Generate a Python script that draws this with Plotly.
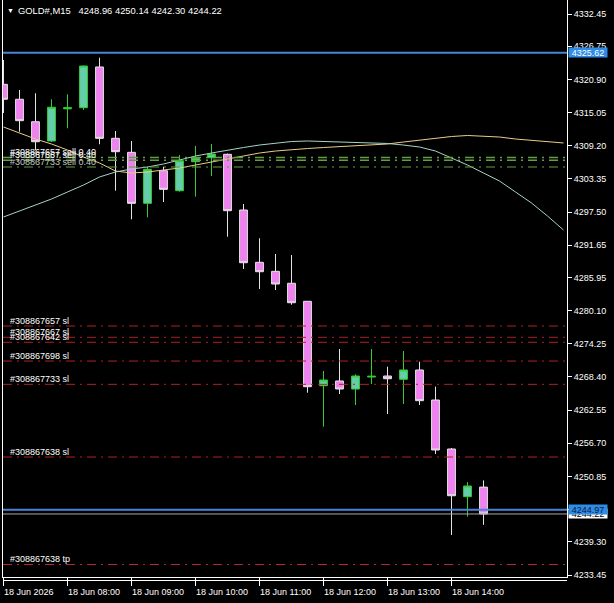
import plotly.graph_objects as go
import pandas as pd

# ---------------- data ----------------
bar_time = pd.date_range("2026-06-18 07:00", periods=31, freq="15min")
open_ = [4320.04, 4317.40, 4313.44, 4310.04, 4315.72, 4315.91, 4323.10, 4310.51, 4308.04, 4299.04,
         4304.80, 4301.27, 4306.39, 4307.09, 4307.69, 4297.86, 4288.63, 4287.04, 4284.93, 4281.75,
         4266.86, 4267.69, 4266.27, 4268.39, 4268.57, 4267.99, 4269.63, 4264.33, 4255.69, 4247.27, 4248.96]
high = [4324.33, 4319.04, 4318.46, 4317.40, 4318.28, 4323.35, 4324.74, 4311.80, 4310.04, 4305.50,
        4305.50, 4307.57, 4309.16, 4309.51, 4307.83, 4298.92, 4292.87, 4290.10, 4289.92, 4281.80,
        4269.45, 4273.33, 4268.87, 4273.33, 4270.21, 4272.98, 4271.09, 4266.68, 4255.86, 4249.86, 4250.14]
low = [4314.98, 4311.68, 4308.45, 4309.86, 4312.28, 4315.51, 4309.46, 4301.27, 4296.22, 4296.57,
       4299.27, 4301.09, 4300.21, 4303.86, 4293.15, 4287.45, 4283.92, 4283.74, 4281.15, 4265.62,
       4259.62, 4265.39, 4263.45, 4267.16, 4261.86, 4263.63, 4263.45, 4254.80, 4240.51, 4243.74, 4242.30]
close = [4317.40, 4313.62, 4309.91, 4315.99, 4315.90, 4323.27, 4310.51, 4308.15, 4299.04, 4305.04,
         4301.51, 4306.56, 4307.13, 4307.74, 4297.74, 4288.56, 4286.97, 4284.80, 4281.50, 4266.68,
         4267.86, 4266.27, 4268.57, 4268.52, 4268.09, 4269.63, 4264.21, 4255.51, 4247.44, 4249.16, 4244.22]

# shifted moving averages (extend 5 bars past the last candle)
ma_time = pd.date_range("2026-06-18 07:00", periods=36, freq="15min")
ma_yellow = [4312.51, 4311.45, 4310.39, 4309.51, 4308.45, 4307.21, 4306.16, 4304.74, 4304.39, 4304.57,
             4304.92, 4305.27, 4305.80, 4306.33, 4306.86, 4307.39, 4307.92, 4308.27, 4308.54, 4308.71,
             4308.89, 4309.07, 4309.24, 4309.33, 4309.51, 4309.86, 4310.21, 4310.57, 4310.83, 4311.01,
             4310.92, 4310.74, 4310.39, 4310.13, 4309.86, 4309.69]
ma_cyan = [4296.63, 4297.69, 4298.74, 4299.80, 4301.04, 4302.27, 4303.69, 4304.57, 4305.10, 4305.45,
           4305.98, 4306.69, 4307.39, 4307.92, 4308.45, 4308.89, 4309.33, 4309.69, 4309.95, 4310.04,
           4309.95, 4309.86, 4309.77, 4309.69, 4309.60, 4309.33, 4308.98, 4308.27, 4307.04, 4305.80,
           4304.39, 4302.98, 4301.04, 4299.10, 4296.80, 4294.33]

# order lines
entry_prices = [4307.13, 4306.63, 4305.45]
entry_labels = ["#308867657 sell 0.40", "#308867667 sell 0.40", "#308867733 sell 0.40"]
stop_prices = [4277.39, 4275.40, 4274.52, 4271.21, 4267.10, 4254.27]
stop_labels = ["#308867657 sl", "#308867667 sl", "#308867642 sl", "#308867698 sl", "#308867733 sl", "#308867638 sl"]
tp_prices = [4235.30]
tp_labels = ["#308867638 tp"]
blue_levels = [4325.62, 4244.97]
bid_price = 4244.22

# axes
price_ticks = [4332.45, 4326.75, 4320.90, 4315.05, 4309.20, 4303.35, 4297.50, 4291.65, 4285.95,
               4280.10, 4274.25, 4268.40, 4262.55, 4256.70, 4250.85, 4245.00, 4239.30, 4233.45]
time_ticks = pd.date_range("2026-06-18 07:00", periods=8, freq="60min")
time_labels = ["18 Jun 2026", "18 Jun 08:00", "18 Jun 09:00", "18 Jun 10:00",
               "18 Jun 11:00", "18 Jun 12:00", "18 Jun 13:00", "18 Jun 14:00"]
header_text = "GOLD#,M15\u00a0\u00a0 4248.96 4250.14 4242.30 4244.22"

FONT = "Liberation Sans"

fig = go.Figure()
fig.add_trace(go.Candlestick(
    x=bar_time, open=open_, high=high, low=low, close=close,
    increasing=dict(fillcolor="#66CDAA", line=dict(color="#32CD32", width=1)),
    decreasing=dict(fillcolor="#EE82EE", line=dict(color="#E4E4E4", width=1)),
    whiskerwidth=0, showlegend=False, hoverinfo="skip"))
fig.add_trace(go.Scatter(x=ma_time, y=ma_yellow, mode="lines",
                         line=dict(color="#E8CC88", width=1), showlegend=False, hoverinfo="skip"))
fig.add_trace(go.Scatter(x=ma_time, y=ma_cyan, mode="lines",
                         line=dict(color="#A6D4C2", width=1), showlegend=False, hoverinfo="skip"))

shapes = []
annotations = []

def hline(price, color, width, dash):
    shapes.append(dict(type="line", xref="paper", x0=0, x1=1, yref="y", y0=price, y1=price,
                       line=dict(color=color, width=width, dash=dash)))

def order_label(price, text, color="#FFFFFF"):
    annotations.append(dict(xref="paper", x=0, xshift=5, xanchor="left", yref="y", y=price,
                            yanchor="bottom", yshift=-1.5, text=text, showarrow=False,
                            font=dict(family=FONT, size=9, color=color)))

DASHDOT = "9px,5px,2px,5px"
for p, t, c, w in zip(entry_prices, entry_labels, ["#FFFFFF", "#FFFFFF", "#C8C8C8"], [1.5, 1.5, 1]):
    hline(p, "#5FA043", w, DASHDOT)
    order_label(p, t, c)
for p, t in zip(stop_prices, stop_labels):
    hline(p, "#B02222", 1, DASHDOT)
    order_label(p, t)
for p, t in zip(tp_prices, tp_labels):
    hline(p, "#B42840", 1, DASHDOT)
    order_label(p, t)

hline(bid_price, "#A8A8A8", 1, "solid")
for p in blue_levels:
    hline(p, "#4A84D6", 2, "solid")

# right-side price boxes
annotations.append(dict(xref="paper", x=1, xshift=1, xanchor="left", yref="y", y=bid_price,
                        yanchor="middle", text=f"{bid_price:.2f}", showarrow=False, bgcolor="#FFFFFF",
                        width=38, height=9, borderpad=0,
                        font=dict(family=FONT, size=9, color="#000000")))
for p, fc in zip(blue_levels, ["#FFFFFF", "#0A1A3A"]):
    annotations.append(dict(xref="paper", x=1, xshift=1, xanchor="left", yref="y", y=p,
                            yanchor="middle", text=f"{p:.2f}", showarrow=False, bgcolor="#2E8BE6",
                            width=38, height=9, borderpad=0,
                            font=dict(family=FONT, size=9, color=fc)))

# time labels
for t, lab in zip(time_ticks, time_labels):
    annotations.append(dict(xref="x", x=t, xanchor="left", xshift=-2, yref="paper", y=0,
                            yanchor="middle", yshift=-15, text=lab, showarrow=False,
                            font=dict(family=FONT, size=9, color="#FFFFFF")))

# header
annotations.append(dict(xref="paper", x=0, xshift=2, xanchor="left", yref="paper", y=1,
                        yanchor="middle", yshift=-10.5, text="▼", showarrow=False,
                        font=dict(family=FONT, size=7, color="#FFFFFF")))
annotations.append(dict(xref="paper", x=0, xshift=13, xanchor="left", yref="paper", y=1,
                        yanchor="middle", yshift=-10.5, text=header_text, showarrow=False,
                        font=dict(family=FONT, size=9.4, color="#FFFFFF")))

# time-scale double line just under the chart frame
shapes.append(dict(type="line", xref="paper", x0=0, x1=1, yref="paper",
                   ysizemode="pixel", yanchor=0, y0=-3.5, y1=-3.5,
                   line=dict(color="#FFFFFF", width=1)))

x_left = bar_time[0] - pd.Timedelta(seconds=28.125)
x_right = bar_time[0] + pd.Timedelta(seconds=31696.875)

fig.update_layout(
    width=614, height=603,
    margin=dict(l=3, r=47, t=0, b=26),
    paper_bgcolor="#000000", plot_bgcolor="#000000",
    shapes=shapes, annotations=annotations,
    font=dict(family=FONT, size=9, color="#FFFFFF"),
    xaxis=dict(range=[x_left, x_right], rangeslider=dict(visible=False), showgrid=False,
               zeroline=False, tickvals=list(time_ticks), ticktext=[""] * len(time_ticks),
               ticks="outside", ticklen=8, tickcolor="#FFFFFF", tickwidth=1,
               showline=True, linecolor="#FFFFFF", linewidth=1, mirror=True),
    yaxis=dict(range=[4233.10, 4334.92], side="right", showgrid=False, zeroline=False,
               tickvals=price_ticks, ticktext=[f"{v:.2f}" for v in price_ticks],
               ticks="outside", ticklen=4, tickcolor="#FFFFFF", tickwidth=1,
               tickfont=dict(family=FONT, size=9, color="#FFFFFF"),
               showline=True, linecolor="#FFFFFF", linewidth=1, mirror=True),
    hovermode=False,
)

fig.write_html("out.html")
